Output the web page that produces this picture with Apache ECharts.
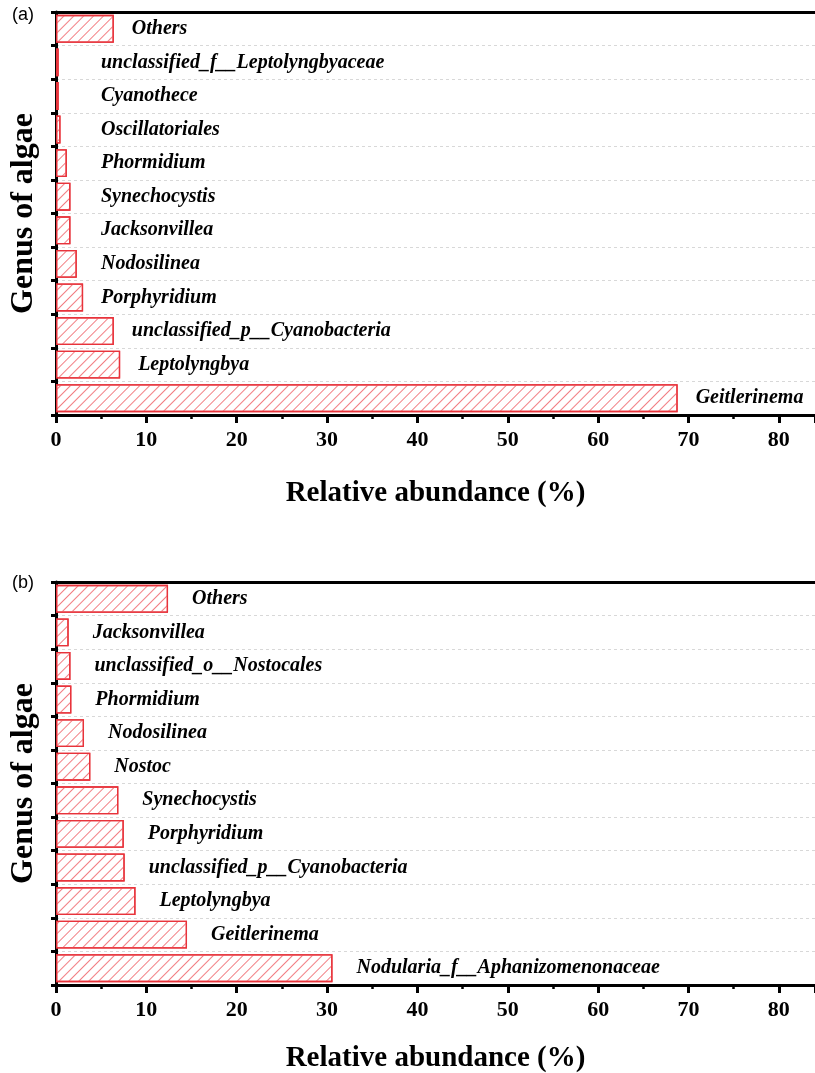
<!DOCTYPE html>
<html>
<head>
<meta charset="utf-8">
<script src="https://cdn.jsdelivr.net/npm/echarts@6/dist/echarts.min.js"></script>
<style>
  html, body { margin: 0; padding: 0; background: #fff; }
  #main { width: 815px; height: 1073px; }
</style>
</head>
<body>
<div id="main"></div>
<script>
// panel (a)
var catsA = ['Others', 'unclassified_f__Leptolyngbyaceae', 'Cyanothece', 'Oscillatoriales',
    'Phormidium', 'Synechocystis', 'Jacksonvillea', 'Nodosilinea', 'Porphyridium',
    'unclassified_p__Cyanobacteria', 'Leptolyngbya', 'Geitlerinema'];
var valsA = [6.4, 0.3, 0.3, 0.5, 1.2, 1.6, 1.6, 2.3, 3.0, 6.4, 7.1, 68.8];

// panel (b)
var catsB = ['Others', 'Jacksonvillea', 'unclassified_o__Nostocales', 'Phormidium',
    'Nodosilinea', 'Nostoc', 'Synechocystis', 'Porphyridium',
    'unclassified_p__Cyanobacteria', 'Leptolyngbya', 'Geitlerinema',
    'Nodularia_f__Aphanizomenonaceae'];
var valsB = [12.4, 1.4, 1.6, 1.7, 3.1, 3.8, 6.9, 7.5, 7.6, 8.8, 14.5, 30.6];

var xTicks = [0, 10, 20, 30, 40, 50, 60, 70, 80];

var serif = '"Liberation Serif", "DejaVu Serif", serif';
var red = '#e8333b';

var chart = echarts.init(document.getElementById('main'));

function xAxisBottom(idx, gap) {
    return {
        gridIndex: idx,
        type: 'value',
        min: 0,
        max: 84,
        interval: 10,
        name: 'Relative abundance (%)',
        nameLocation: 'middle',
        nameGap: gap,
        nameTextStyle: { fontFamily: serif, fontWeight: 'bold', fontSize: 29, color: '#000' },
        axisLine: { show: true, lineStyle: { color: '#000', width: 3 } },
        axisTick: { show: true, length: 8, lineStyle: { color: '#000', width: 3 } },
        minorTick: { show: true, splitNumber: 2, length: 4, lineStyle: { color: '#000', width: 2.5 } },
        axisLabel: {
            showMaxLabel: false,
            margin: 14,
            fontFamily: serif, fontWeight: 'bold', fontSize: 22, color: '#000',
            formatter: function (v) { return xTicks.indexOf(v) >= 0 ? v : ''; }
        },
        splitLine: { show: false }
    };
}

function xAxisTop(idx) {
    return {
        gridIndex: idx,
        type: 'value',
        position: 'top',
        min: 0,
        max: 84,
        axisLine: { show: true, lineStyle: { color: '#000', width: 3 } },
        axisTick: { show: false },
        axisLabel: { show: false },
        splitLine: { show: false }
    };
}

function yAxisCat(idx, cats) {
    return {
        gridIndex: idx,
        type: 'category',
        inverse: true,
        data: cats,
        name: 'Genus of algae',
        nameLocation: 'middle',
        nameGap: 16,
        nameTextStyle: { fontFamily: serif, fontWeight: 'bold', fontSize: 32, color: '#000' },
        axisLine: { show: true, lineStyle: { color: '#000', width: 3 } },
        axisTick: { show: true, length: 5, lineStyle: { color: '#000', width: 3 } },
        axisLabel: { show: false },
        splitLine: { show: true, lineStyle: { color: '#d8d8d8', width: 1, type: [3, 3] } }
    };
}

function barSeries(idx, vals, dist) {
    return {
        type: 'bar',
        xAxisIndex: idx * 2,
        yAxisIndex: idx,
        barCategoryGap: '17%',
        itemStyle: {
            color: '#fff',
            borderColor: red,
            borderWidth: 1.3,
            decal: {
                symbol: 'rect',
                color: '#f27e83',
                dashArrayX: [1, 0],
                dashArrayY: [1, 5.5],
                rotation: -Math.PI / 4
            }
        },
        label: {
            show: true,
            position: 'right',
            distance: dist,
            fontFamily: serif,
            fontStyle: 'italic',
            fontWeight: 'bold',
            fontSize: 20,
            color: '#000',
            formatter: function (p) { return p.name; }
        },
        data: vals.slice()
    };
}

chart.setOption({
    animation: false,
    grid: [
        { left: 56, right: 0, top: 12, height: 403, outerBoundsMode: 'none' },
        { left: 56, right: 0, top: 582, height: 403, outerBoundsMode: 'none' }
    ],
    xAxis: [xAxisBottom(0, 64), xAxisTop(0), xAxisBottom(1, 59), xAxisTop(1)],
    yAxis: [yAxisCat(0, catsA), yAxisCat(1, catsB)],
    graphic: [
        { type: 'text', left: 12, top: 6, style: { text: '(a)', font: '18px "Liberation Sans", Arial, sans-serif', fill: '#000' } },
        { type: 'text', left: 12, top: 574, style: { text: '(b)', font: '18px "Liberation Sans", Arial, sans-serif', fill: '#000' } }
    ],
    series: [barSeries(0, valsA, 18), barSeries(1, valsB, 24)]
});

// panel (a) labels never start left of about x=100
var dataA = valsA.map(function (v) {
    var end = chart.convertToPixel({ xAxisIndex: 0 }, v);
    return { value: v, label: { distance: Math.max(18, 101 - end) } };
});
chart.setOption({ series: [{ data: dataA }, {}] });
</script>
</body>
</html>
